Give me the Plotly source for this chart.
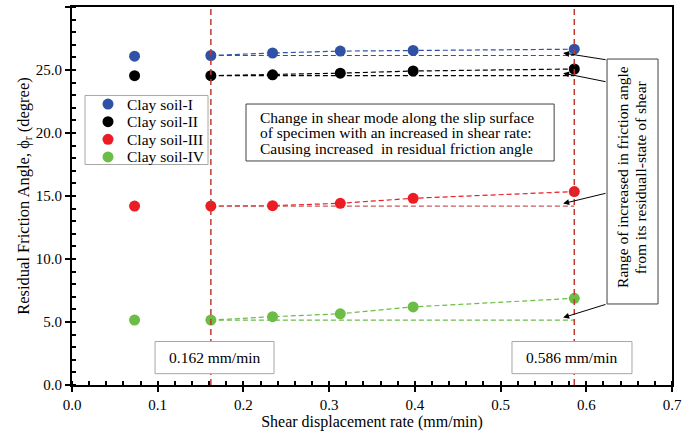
import plotly.graph_objects as go

# shear displacement rates (mm/min) and residual friction angles (degree)
rate = [0.073, 0.162, 0.234, 0.313, 0.398, 0.586]
soil_names = ["Clay soil-I", "Clay soil-II", "Clay soil-III", "Clay soil-IV"]
soil_I = [26.1, 26.15, 26.35, 26.5, 26.55, 26.65]
soil_II = [24.55, 24.55, 24.62, 24.75, 24.92, 25.08]
soil_III = [14.2, 14.2, 14.23, 14.42, 14.82, 15.35]
soil_IV = [5.15, 5.15, 5.42, 5.65, 6.2, 6.88]
marked_rates = [0.162, 0.586]
marked_labels = ["0.162 mm/min", "0.586 mm/min"]

colors = ["#2f52a6", "#000000", "#ec1c24", "#6cbd45"]
flat_colors = ["#2f52a6", "#000000", "#c45a5a", "#6cbd45"]
FONT = "Liberation Serif"
FS = 15.5

fig = go.Figure()
series = [soil_I, soil_II, soil_III, soil_IV]
for name, vals, c, fc in zip(soil_names, series, colors, flat_colors):
    # dashed trend through the tested rates
    fig.add_trace(go.Scatter(x=rate[1:], y=vals[1:], mode="lines",
                             line=dict(color=c, width=1.2, dash="5px,3px"),
                             showlegend=False, hoverinfo="skip"))
    # residual-state reference level held from 0.162 mm/min
    fig.add_trace(go.Scatter(x=[rate[1], rate[-1]], y=[vals[1], vals[1]], mode="lines",
                             line=dict(color=fc, width=1.2, dash="5px,3px"),
                             showlegend=False, hoverinfo="skip"))
for name, vals, c in zip(soil_names, series, colors):
    fig.add_trace(go.Scatter(x=rate, y=vals, mode="markers", name=name,
                             marker=dict(color=c, size=11), showlegend=False))

# vertical markers at the two rates
for r in marked_rates:
    fig.add_shape(type="line", x0=r, x1=r, y0=0, y1=30, xref="x", yref="y",
                  line=dict(color="#bf3a32", width=1.5, dash="6px,4px"), layer="above")

# boxes with the rate labels (cover the vertical lines)
for (x0, x1), lab in zip([(0.0969, 0.2357), (0.5133, 0.6533)], marked_labels):
    fig.add_shape(type="rect", x0=x0, x1=x1, y0=0.9, y1=3.45, xref="x", yref="y",
                  line=dict(color="#a6a6a6", width=1), fillcolor="white", layer="above")
    fig.add_annotation(x=(x0 + x1) / 2, y=2.17, text=lab, showarrow=False,
                       font=dict(family=FONT, size=FS, color="black"))

# manual legend
fig.add_shape(type="rect", x0=0.0152, x1=0.1587, y0=17.5, y1=22.98, xref="x", yref="y",
              line=dict(color="#a6a6a6", width=1), fillcolor="white", layer="above")
for name, c, yy in zip(soil_names, colors, [22.3, 20.9, 19.5, 18.1]):
    fig.add_shape(type="circle", xref="x", yref="y", xsizemode="pixel", ysizemode="pixel",
                  xanchor=0.042, yanchor=yy, x0=-5.5, x1=5.5, y0=-5.5, y1=5.5,
                  fillcolor=c, line=dict(width=0), layer="above")
    fig.add_annotation(x=0.0618, y=yy, text=name, showarrow=False, xanchor="left",
                       font=dict(family=FONT, size=FS, color="black"))

# central note
fig.add_shape(type="rect", x0=0.203, x1=0.5625, y0=17.78, y1=22.3, xref="x", yref="y",
              line=dict(color="#404040", width=1), fillcolor="white", layer="above")
note = ["Change in shear mode along the slip surface",
        "of specimen with an increased in shear rate:",
        "Causing increased  in residual friction angle"]
for line, yy in zip(note, [21.27, 20.05, 18.8]):
    fig.add_annotation(x=0.217, y=yy, text=line, showarrow=False, xanchor="left",
                       font=dict(family=FONT, size=FS, color="black"))

# rotated callout
fig.add_shape(type="rect", x0=0.6242, x1=0.6837, y0=6.43, y1=25.87, xref="x", yref="y",
              line=dict(color="#404040", width=1), fillcolor="white", layer="above")
callout = ["Range of increased in friction angle", "from its residuall-state of shear"]
for line, xx in zip(callout, [0.6415, 0.6627]):
    fig.add_annotation(x=xx, y=16.5, text=line, showarrow=False, textangle=-90,
                       font=dict(family=FONT, size=FS, color="black"))
for vals, ty in zip(series, [25.8, 24.05, 15.24, 6.43]):
    fig.add_annotation(x=0.573, y=vals[1] + 0.2, ax=0.6242, ay=ty, xref="x", yref="y",
                       axref="x", ayref="y", text="", showarrow=True, arrowhead=2,
                       arrowsize=1.2, arrowwidth=1, arrowcolor="black", standoff=0)

axis_font = dict(family=FONT, size=15, color="black")
fig.update_xaxes(range=[0, 0.7], dtick=0.1, tickformat=".1f", showgrid=False, zeroline=False,
                 showline=True, linecolor="black", linewidth=2, mirror=True,
                 ticks="outside", ticklen=5, tickwidth=1.5, tickcolor="black",
                 minor=dict(dtick=0.02, ticks="inside", ticklen=4, tickcolor="black"),
                 tickfont=axis_font,
                 title=dict(text="Shear displacement rate (mm/min)",
                            font=dict(family=FONT, size=16, color="black"), standoff=3))
fig.update_yaxes(range=[0, 30], dtick=5, tickformat=".1f", showgrid=False, zeroline=False,
                 showline=True, linecolor="black", linewidth=2, mirror=True,
                 ticks="outside", ticklen=5, tickwidth=1.5, tickcolor="black",
                 minor=dict(dtick=1, ticks="inside", ticklen=4, tickcolor="black"),
                 tickfont=axis_font,
                 title=dict(text="Residual Friction Angle, ϕ<sub>r</sub> (degree)",
                            font=dict(family=FONT, size=16.5, color="black"), standoff=2))
fig.update_layout(width=685, height=431, margin=dict(l=72, r=13, t=7, b=46, autoexpand=False),
                  plot_bgcolor="white", paper_bgcolor="white", showlegend=False)
# drop the browser's default 8px body margin so the figure sits at the window corner
fig.write_html("out.html", config={"displayModeBar": False},
               post_script="document.body.style.margin='0px';")
